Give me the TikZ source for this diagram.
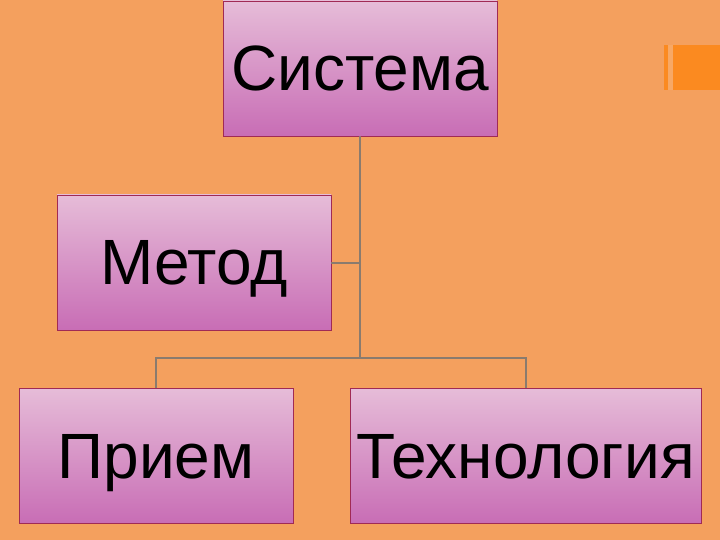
\documentclass[tikz,border=0pt]{standalone}
\usepackage{fontspec}
\setmainfont{Liberation Sans}
\definecolor{bg}{HTML}{F4A05E}
\definecolor{boxtop}{HTML}{E6BCD8}
\definecolor{boxbot}{HTML}{C86DB5}
\definecolor{boxedge}{HTML}{A02A55}
\definecolor{connc}{HTML}{8A7B6E}
\definecolor{deco}{HTML}{FB8A20}
\definecolor{decol}{HTML}{F7A865}
\tikzset{
  box/.style={draw=boxedge, line width=0.8pt, top color=boxtop, bottom color=boxbot,
    inner sep=0pt, minimum height=135pt, text depth=0pt,
    font=\fontsize{64}{64}\selectfont},
  conn/.style={draw=connc, line width=2pt}
}
\begin{document}
\begin{tikzpicture}[x=1pt,y=-1pt]
\fill[bg] (0,0) rectangle (720,540);
\useasboundingbox (0,0) rectangle (720,540);
% decoration
\fill[deco] (664,45) rectangle (668,90);
\fill[decol] (668,45) rectangle (673,90);
\fill[deco] (673,45) rectangle (720,90);
% boxes
\node[box, minimum width=274pt] (sys) at (360,68.5) {Система};
\node[box, minimum width=274pt] (met) at (194,262.5) {Метод};
\node[box, minimum width=274pt] (pri) at (156,456) {Прием};
\node[box, minimum width=351pt] (tech) at (525.5,456) {Технология};
\coordinate (j) at (360,358);
% connectors
\draw[conn] (sys.south) -- (j);
\draw[conn] (met.east) -- (met.east -| sys.south);
\draw[conn] (pri.north) |- (j) -| (tech.north);
\end{tikzpicture}
\end{document}
